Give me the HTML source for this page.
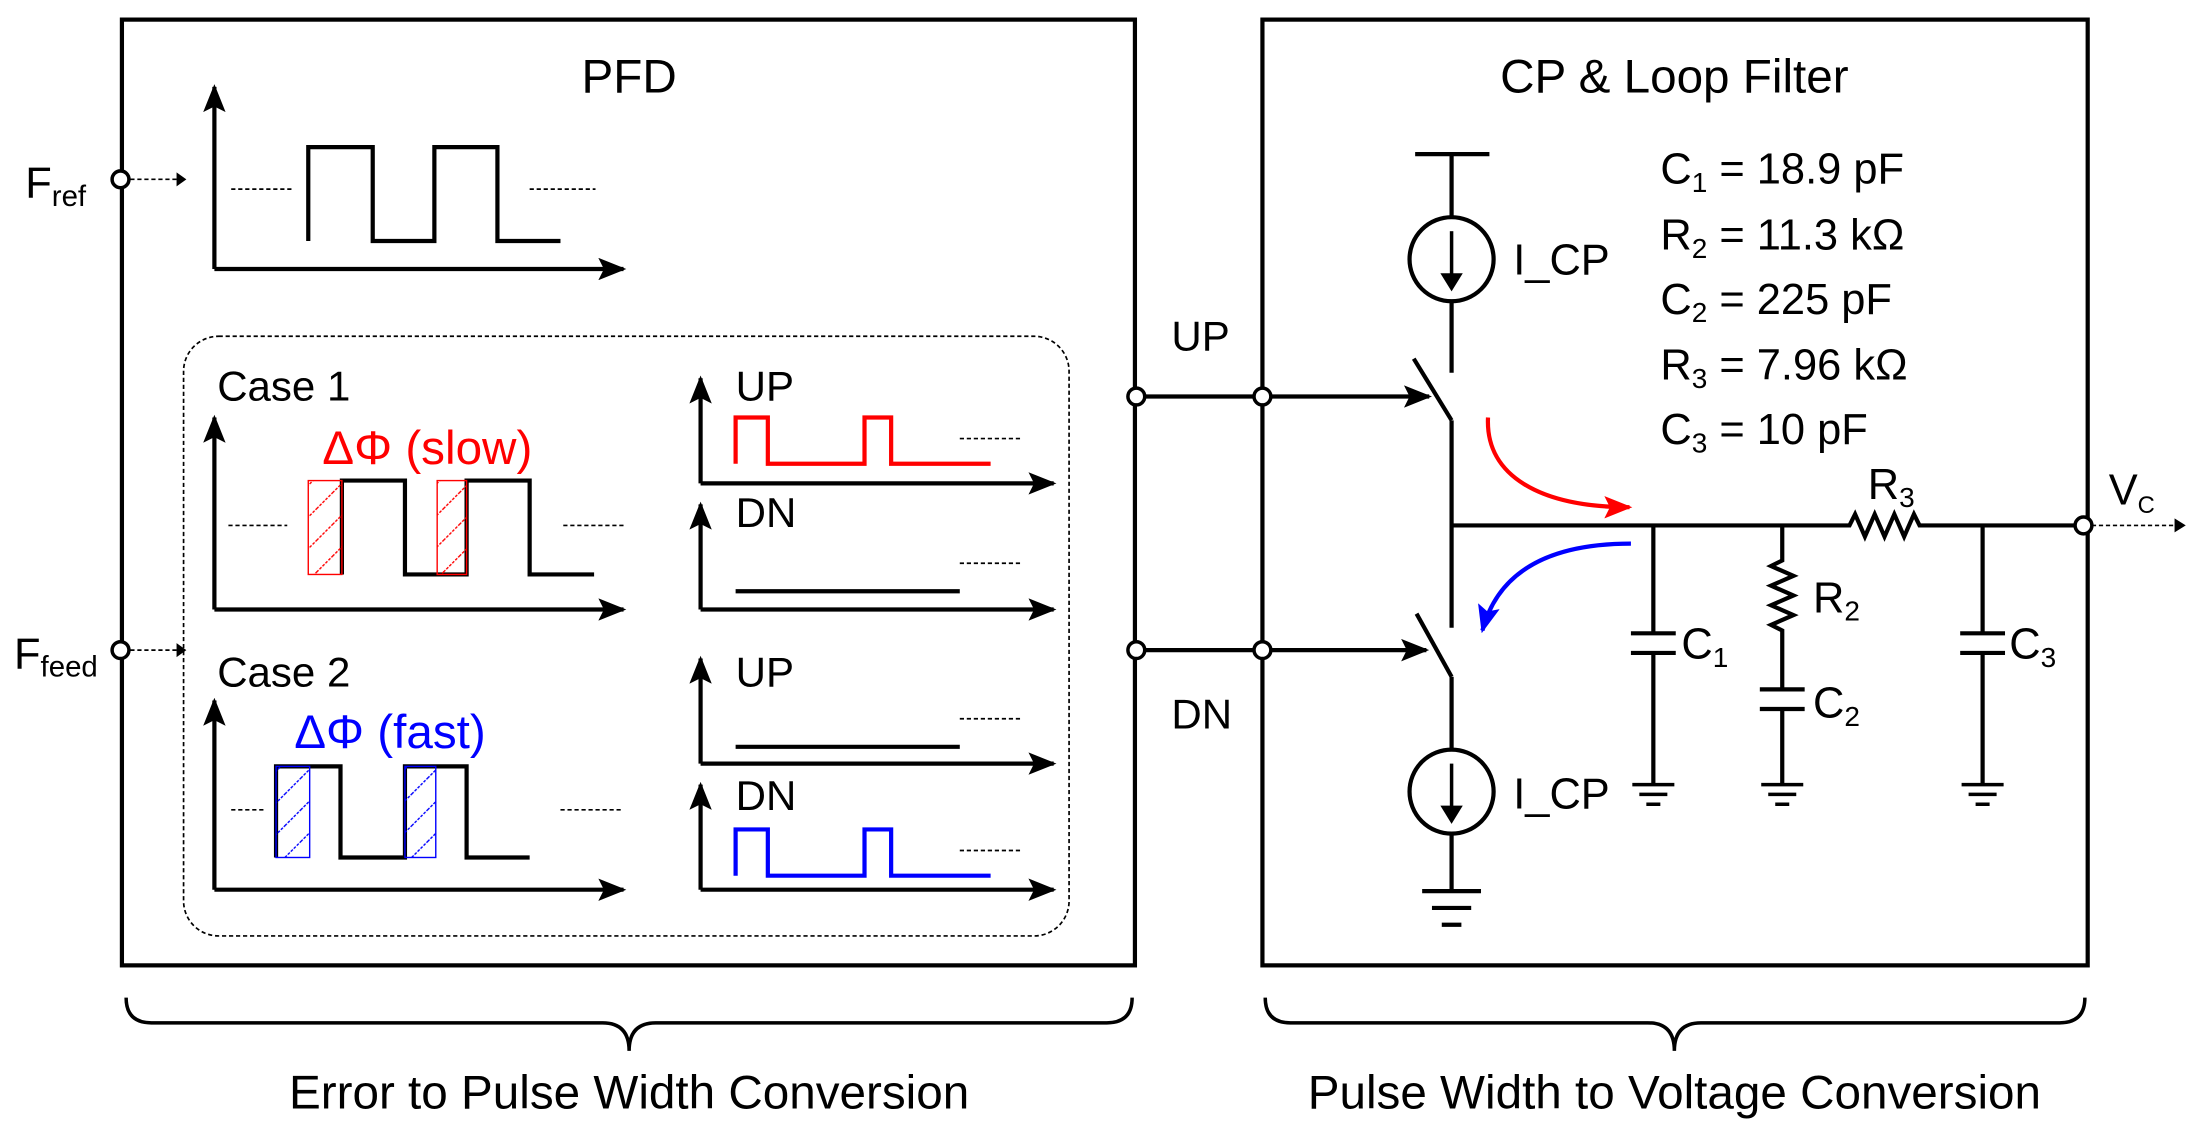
<!DOCTYPE html>
<html><head><meta charset="utf-8"><style>html,body{margin:0;padding:0;background:#fff}svg{display:block}text{font-family:"Liberation Sans",sans-serif}</style></head>
<body>
<svg width="2197" height="1130" viewBox="0 0 1568 806.5" xmlns="http://www.w3.org/2000/svg">
<defs>
<marker id="ahb" markerWidth="20" markerHeight="16" refX="18" refY="8" orient="auto" markerUnits="userSpaceOnUse" viewBox="0 0 20 16"><path d="M0,0 L20,8 L0,16 L4,8 Z" fill="#000"/></marker>
<marker id="ahr" markerWidth="20" markerHeight="16" refX="18" refY="8" orient="auto" markerUnits="userSpaceOnUse" viewBox="0 0 20 16"><path d="M0,0 L20,8 L0,16 L4,8 Z" fill="red"/></marker>
<marker id="ahbl" markerWidth="20" markerHeight="16" refX="18" refY="8" orient="auto" markerUnits="userSpaceOnUse" viewBox="0 0 20 16"><path d="M0,0 L20,8 L0,16 L4,8 Z" fill="blue"/></marker>
<pattern id="hr" width="16" height="16" patternUnits="userSpaceOnUse" patternTransform="rotate(45)"><line x1="0" y1="0" x2="0" y2="16" stroke="red" stroke-width="2" stroke-dasharray="2,1"/></pattern>
<pattern id="hb" width="16" height="16" patternUnits="userSpaceOnUse" patternTransform="rotate(45)"><line x1="0" y1="0" x2="0" y2="16" stroke="blue" stroke-width="2" stroke-dasharray="2,1"/></pattern>
</defs>
<g fill="none" stroke="#000" stroke-width="3">
<rect x="87" y="14" width="723" height="675"/>
<rect x="901" y="14" width="589" height="675"/>
<rect x="131" y="240" width="632" height="428" rx="25" stroke-width="1.2" stroke-dasharray="3,2"/>
</g>
<text x="449" y="66" font-size="34" text-anchor="middle">PFD</text>
<text x="1195" y="66" font-size="34" text-anchor="middle">CP &amp; Loop Filter</text>
<text x="18" y="141" font-size="31">F<tspan font-size="21" dy="6">ref</tspan></text>
<text x="10" y="477" font-size="31">F<tspan font-size="21" dy="6">feed</tspan></text>
<g stroke="#000" stroke-width="1.2" stroke-dasharray="3,2" fill="none">
<line x1="93" y1="128" x2="126" y2="128"/><line x1="93" y1="464" x2="126" y2="464"/>
<line x1="1493" y1="375" x2="1552" y2="375"/>
<line x1="165" y1="135" x2="210" y2="135"/><line x1="378" y1="135" x2="425" y2="135"/>
<line x1="163" y1="375" x2="205" y2="375"/><line x1="402" y1="375" x2="447" y2="375"/>
<line x1="165" y1="578" x2="190" y2="578"/><line x1="400" y1="578" x2="445" y2="578"/>
<line x1="685" y1="313" x2="730" y2="313"/><line x1="685" y1="402" x2="730" y2="402"/>
<line x1="685" y1="513" x2="730" y2="513"/><line x1="685" y1="607" x2="730" y2="607"/>
</g>
<g fill="#000"><path d="M126,123 L133,128 L126,133Z"/><path d="M126,459 L133,464 L126,469Z"/><path d="M1552,370 L1560,375 L1552,380Z"/></g>
<g stroke="#000" stroke-width="3" fill="none">
<path d="M153,192 V62" marker-end="url(#ahb)"/><path d="M153,192 H445" marker-end="url(#ahb)"/>
<path d="M153,435 V298" marker-end="url(#ahb)"/><path d="M153,435 H445" marker-end="url(#ahb)"/>
<path d="M153,635 V500" marker-end="url(#ahb)"/><path d="M153,635 H445" marker-end="url(#ahb)"/>
<path d="M500,345 V270" marker-end="url(#ahb)"/><path d="M500,345 H752" marker-end="url(#ahb)"/>
<path d="M500,435 V360" marker-end="url(#ahb)"/><path d="M500,435 H752" marker-end="url(#ahb)"/>
<path d="M500,545 V470" marker-end="url(#ahb)"/><path d="M500,545 H752" marker-end="url(#ahb)"/>
<path d="M500,635 V560" marker-end="url(#ahb)"/><path d="M500,635 H752" marker-end="url(#ahb)"/>
<path d="M220,172 V105 H266 V172 H310 V105 H355 V172 H400"/>
<path d="M244,410 V343 H289 V410 H333 V343 H378 V410 H424"/>
<path d="M197,612 V547 H243 V612 H289 V547 H333 V612 H378"/>
<path d="M525,422 H685"/><path d="M525,533 H685"/>
</g>
<rect x="220" y="343" width="24" height="67" fill="url(#hr)" stroke="red" stroke-width="1"/>
<rect x="312" y="343" width="21" height="67" fill="url(#hr)" stroke="red" stroke-width="1"/>
<rect x="197" y="547" width="24" height="65" fill="url(#hb)" stroke="blue" stroke-width="1"/>
<rect x="289" y="547" width="22" height="65" fill="url(#hb)" stroke="blue" stroke-width="1"/>
<path d="M525,331 V298 H548 V331 H617 V298 H636 V331 H707" stroke="red" stroke-width="3" fill="none"/>
<path d="M525,625 V592 H548 V625 H617 V592 H636 V625 H707" stroke="blue" stroke-width="3" fill="none"/>
<g font-size="30">
<text x="155" y="286">Case 1</text><text x="155" y="490">Case 2</text>
<text x="525" y="286">UP</text><text x="525" y="376">DN</text>
<text x="525" y="490">UP</text><text x="525" y="578">DN</text>
<text x="230" y="331" fill="red" font-size="34">ΔΦ (slow)</text>
<text x="210" y="534" fill="blue" font-size="34">ΔΦ (fast)</text>
<text x="836" y="250">UP</text><text x="836" y="520">DN</text>
</g>
<g stroke="#000" stroke-width="3" fill="none">
<line x1="811" y1="283" x2="901" y2="283"/><line x1="811" y1="464" x2="901" y2="464"/>
<path d="M907,283 H1020" marker-end="url(#ahb)"/><path d="M907,464 H1018" marker-end="url(#ahb)"/>
<line x1="1010" y1="110" x2="1063" y2="110"/>
<line x1="1036" y1="110" x2="1036" y2="155"/>
<circle cx="1036" cy="185" r="30"/>
<line x1="1036" y1="215" x2="1036" y2="266"/>
<line x1="1009" y1="256" x2="1036" y2="300"/>
<line x1="1036" y1="300" x2="1036" y2="448"/>
<line x1="1011" y1="438" x2="1036" y2="483"/>
<line x1="1036" y1="483" x2="1036" y2="535"/>
<circle cx="1036" cy="565" r="30"/>
<line x1="1036" y1="595" x2="1036" y2="636"/>
<line x1="1015" y1="636" x2="1057" y2="636"/><line x1="1022" y1="648" x2="1050" y2="648"/><line x1="1029" y1="660" x2="1043" y2="660"/>
<path d="M1036,375 H1320 l4,-8 l7,16 l7,-16 l7,16 l7,-16 l7,16 l7,-16 l4,8 H1486"/>
<line x1="1180" y1="375" x2="1180" y2="452"/>
<line x1="1164" y1="452" x2="1196" y2="452"/><line x1="1164" y1="466" x2="1196" y2="466"/>
<line x1="1180" y1="466" x2="1180" y2="560"/>
<path d="M1272,375 V400 l-8,4 l16,7 l-16,7 l16,7 l-16,7 l16,7 l-16,7 l8,4 V492"/>
<line x1="1256" y1="492" x2="1288" y2="492"/><line x1="1256" y1="506" x2="1288" y2="506"/>
<line x1="1272" y1="506" x2="1272" y2="560"/>
<line x1="1415" y1="375" x2="1415" y2="452"/>
<line x1="1399" y1="452" x2="1431" y2="452"/><line x1="1399" y1="466" x2="1431" y2="466"/>
<line x1="1415" y1="466" x2="1415" y2="560"/>
</g>
<g stroke="#000" stroke-width="2.5">
<line x1="1165" y1="560" x2="1195" y2="560"/><line x1="1170" y1="567" x2="1190" y2="567"/><line x1="1175" y1="574" x2="1185" y2="574"/>
<line x1="1257" y1="560" x2="1287" y2="560"/><line x1="1262" y1="567" x2="1282" y2="567"/><line x1="1267" y1="574" x2="1277" y2="574"/>
<line x1="1400" y1="560" x2="1430" y2="560"/><line x1="1405" y1="567" x2="1425" y2="567"/><line x1="1410" y1="574" x2="1420" y2="574"/>
<line x1="1036" y1="165" x2="1036" y2="200"/><line x1="1036" y1="545" x2="1036" y2="580"/>
</g>
<path d="M1028,195 L1036,208 L1044,195Z M1028,575 L1036,588 L1044,575Z" fill="#000"/>
<path d="M1062,298 C1060,340 1100,362 1163,362" stroke="red" stroke-width="3" fill="none" marker-end="url(#ahr)"/>
<path d="M1164,388 C1110,388 1070,405 1058,450" stroke="blue" stroke-width="3" fill="none" marker-end="url(#ahbl)"/>
<g fill="#fff" stroke="#000" stroke-width="2.5">
<circle cx="86" cy="128" r="6"/><circle cx="86" cy="464" r="6"/>
<circle cx="811" cy="283" r="6"/><circle cx="901" cy="283" r="6"/>
<circle cx="811" cy="464" r="6"/><circle cx="901" cy="464" r="6"/>
<circle cx="1487" cy="375" r="6"/>
</g>
<g font-size="31">
<text x="1080" y="196">I_CP</text><text x="1080" y="577">I_CP</text>
<text x="1185" y="131">C<tspan font-size="20" dy="6">1</tspan><tspan dy="-6"> = 18.9 pF</tspan></text>
<text x="1185" y="178">R<tspan font-size="20" dy="6">2</tspan><tspan dy="-6"> = 11.3 kΩ</tspan></text>
<text x="1185" y="224">C<tspan font-size="20" dy="6">2</tspan><tspan dy="-6"> = 225 pF</tspan></text>
<text x="1185" y="271">R<tspan font-size="20" dy="6">3</tspan><tspan dy="-6"> = 7.96 kΩ</tspan></text>
<text x="1185" y="317">C<tspan font-size="20" dy="6">3</tspan><tspan dy="-6"> = 10 pF</tspan></text>
<text x="1200" y="470">C<tspan font-size="20" dy="6">1</tspan></text>
<text x="1294" y="437">R<tspan font-size="20" dy="6">2</tspan></text>
<text x="1294" y="512">C<tspan font-size="20" dy="6">2</tspan></text>
<text x="1434" y="470">C<tspan font-size="20" dy="6">3</tspan></text>
<text x="1333" y="356">R<tspan font-size="20" dy="6">3</tspan></text>
<text x="1505" y="360">V<tspan font-size="17" dy="6">C</tspan></text>
</g>
<g stroke="#000" stroke-width="2.5" fill="none">
<path d="M90,712 Q90,730 108,730 H430 Q449,730 449,750 Q449,730 468,730 H790 Q808,730 808,712"/>
<path d="M903,712 Q903,730 921,730 H1176 Q1195,730 1195,750 Q1195,730 1214,730 H1470 Q1488,730 1488,712"/>
</g>
<text x="449" y="791" font-size="34" text-anchor="middle">Error to Pulse Width Conversion</text>
<text x="1195" y="791" font-size="34" text-anchor="middle">Pulse Width to Voltage Conversion</text>
</svg>
</body></html>
